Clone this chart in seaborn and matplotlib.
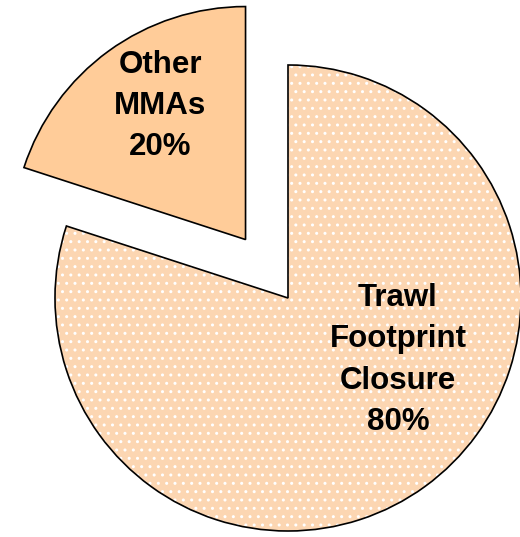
import seaborn as sns
import matplotlib.pyplot as plt

labels = ["Trawl\nFootprint\nClosure\n80%", "Other\nMMAs\n20%"]
shares = [80, 20]

sns.set_style("white")
plt.rcParams['font.family'] = ['Liberation Sans', 'DejaVu Sans']
plt.rcParams['hatch.linewidth'] = 1.0

R = 233
explode = [0, 0.31 * R]  # pie adds explode in data units

fig = plt.figure(figsize=(5.2, 5.37), dpi=100)
ax = fig.add_axes([0, 0, 1, 1])

# fill pass: hatched big slice (white dots), plain small slice
fill, _ = ax.pie(shares, explode=explode, startangle=90, counterclock=False,
                 colors=["#FCD6B2", "#FFCC99"], center=(288, 239), radius=R,
                 wedgeprops=dict(edgecolor="white", linewidth=0))
fill[0].set_hatch("..")

# outline pass
ax.pie(shares, explode=explode, startangle=90, counterclock=False,
       center=(288, 239), radius=R,
       wedgeprops=dict(fill=False, edgecolor="black", linewidth=1.2))

ax.text(398, 537 - 360, labels[0], ha="center", va="center", fontsize=22.5,
        fontweight="bold", linespacing=1.48, color="black")
ax.text(160, 537 - 106, labels[1], ha="center", va="center", fontsize=22.5,
        fontweight="bold", linespacing=1.48, color="black")

ax.set_xlim(0, 520)
ax.set_ylim(0, 537)
ax.set_aspect("equal")
ax.axis("off")
fig.savefig("out.png", dpi=100)
